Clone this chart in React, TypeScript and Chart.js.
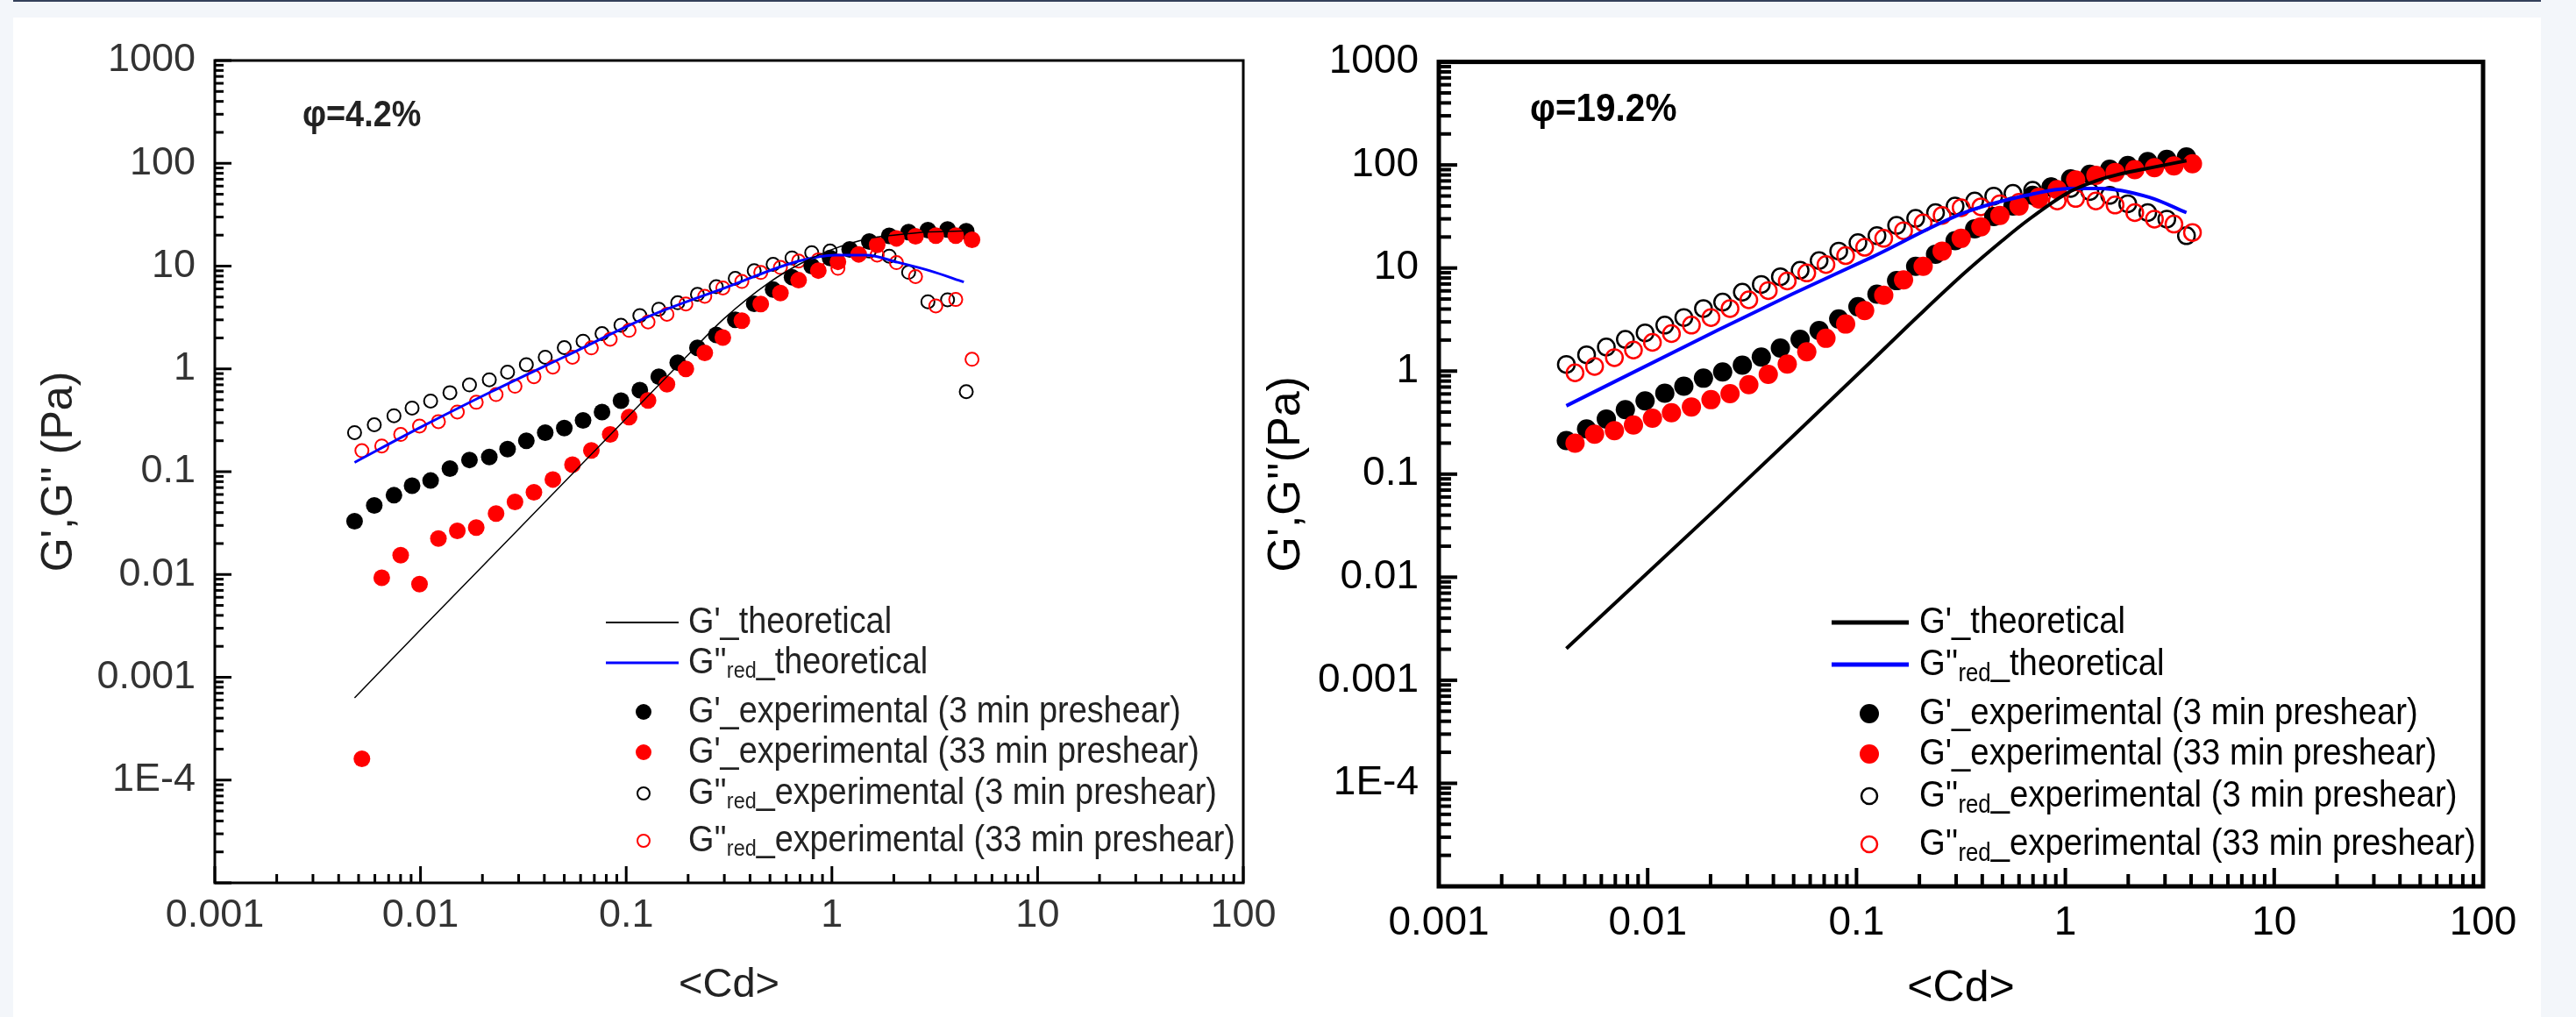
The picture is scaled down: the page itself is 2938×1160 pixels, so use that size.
import React, { useEffect, useRef } from 'react';
import { Chart, registerables } from 'chart.js';

Chart.register(...registerables);

// ---------------- shared tick labels ----------------
const xTickValues = [0.001, 0.01, 0.1, 1, 10, 100];
const xTickLabels = ['0.001', '0.01', '0.1', '1', '10', '100'];
const yTickValues = [1e-4, 0.001, 0.01, 0.1, 1, 10, 100, 1000];
const yTickLabels = ['1E-4', '0.001', '0.01', '0.1', '1', '10', '100', '1000'];

const legendLabels = [
  "G'_theoretical",
  "G''{red}_theoretical",
  "G'_experimental (3 min preshear)",
  "G'_experimental (33 min preshear)",
  "G''{red}_experimental (3 min preshear)",
  "G''{red}_experimental (33 min preshear)",
];
const legendKinds = ['line', 'line', 'filled', 'filled', 'open', 'open'];
const seriesColors = ['#000000', '#0000ff', '#000000', '#ff0000', '#000000', '#ff0000'];

// ---------------- left panel: phi = 4.2% ----------------
const leftTitle = 'φ=4.2%';
const leftExp3X = [0.00478, 0.00596, 0.00743, 0.0091, 0.0112, 0.0139, 0.0173, 0.0216, 0.0265, 0.0327, 0.0404, 0.05, 0.0617, 0.0763, 0.0943, 0.1165, 0.144, 0.178, 0.222, 0.274, 0.339, 0.419, 0.518, 0.64, 0.798, 0.98, 1.22, 1.52, 1.9, 2.36, 2.93, 3.65, 4.5];
const leftGp3Y = [0.033, 0.047, 0.059, 0.073, 0.082, 0.107, 0.13, 0.139, 0.166, 0.2, 0.24, 0.266, 0.316, 0.38, 0.49, 0.62, 0.84, 1.15, 1.6, 2.14, 3.0, 4.3, 5.9, 7.8, 10.0, 12.0, 14.5, 17.3, 19.7, 21.4, 22.4, 22.7, 21.8];
const leftGpp3Y = [0.24, 0.286, 0.35, 0.416, 0.487, 0.587, 0.698, 0.783, 0.93, 1.1, 1.3, 1.61, 1.86, 2.2, 2.66, 3.3, 3.81, 4.4, 5.3, 6.3, 7.6, 9.0, 10.4, 12.0, 13.5, 14.0, 14.5, 14.0, 12.5, 8.7, 4.5, 4.7, 0.6];
const leftExp33X = [0.00519, 0.00648, 0.00801, 0.00989, 0.01222, 0.0151, 0.01866, 0.0233, 0.0288, 0.0356, 0.044, 0.0548, 0.0677, 0.0836, 0.1033, 0.1277, 0.1578, 0.195, 0.241, 0.295, 0.365, 0.451, 0.562, 0.689, 0.859, 1.07, 1.35, 1.66, 2.06, 2.55, 3.2, 4.0, 4.8];
const leftGp33Y = [1.61e-4, 0.0093, 0.0154, 0.00806, 0.0224, 0.0266, 0.0286, 0.0392, 0.0508, 0.063, 0.084, 0.117, 0.161, 0.23, 0.34, 0.494, 0.708, 1.0, 1.43, 2.02, 2.94, 4.28, 5.47, 7.29, 9.04, 11.0, 13.0, 16.1, 18.6, 19.5, 19.8, 19.8, 18.0];
const leftGpp33Y = [0.16, 0.178, 0.23, 0.278, 0.307, 0.381, 0.473, 0.562, 0.678, 0.84, 1.04, 1.3, 1.6, 1.94, 2.37, 2.86, 3.4, 4.28, 5.08, 6.13, 7.08, 8.66, 9.7, 11.2, 11.5, 9.5, 13.0, 12.8, 10.8, 7.9, 4.1, 4.73, 1.24];
const leftTheoGpX = [0.00478, 0.01, 0.03, 0.1, 0.2, 0.3, 0.5, 0.7, 1, 1.5, 2, 3, 4.5];
const leftTheoGpY = [6.3e-4, 2.9e-3, 0.0276, 0.33, 1.37, 3.1, 7.0, 10.5, 14.5, 18.5, 20, 21.5, 22];
const leftTheoGppX = [0.00478, 0.01, 0.0221, 0.05, 0.132, 0.3, 0.69, 1.04, 1.47, 2.08, 3, 4.38];
const leftTheoGppY = [0.123, 0.27, 0.6, 1.31, 3.3, 6.1, 11.2, 12.8, 12.8, 10.9, 9.0, 7.0];

// ---------------- right panel: phi = 19.2% ----------------
const rightTitle = 'φ=19.2%';
const rightExp3X = [0.00408, 0.0051, 0.00634, 0.00782, 0.00972, 0.01208, 0.0149, 0.0185, 0.02286, 0.0284, 0.035, 0.0432, 0.0537, 0.0662, 0.0822, 0.1016, 0.1253, 0.1556, 0.192, 0.239, 0.2965, 0.368, 0.454, 0.561, 0.697, 0.855, 1.06, 1.31, 1.63, 1.99, 2.48, 3.06, 3.8];
const rightGp3Y = [0.212, 0.275, 0.343, 0.422, 0.514, 0.61, 0.713, 0.853, 0.98, 1.14, 1.37, 1.67, 2.03, 2.47, 3.2, 4.21, 5.58, 7.54, 10.4, 13.6, 18.4, 24, 31.6, 39.9, 50.7, 61.2, 73.4, 81.3, 90.8, 99, 108, 113.5, 119.6];
const rightGpp3Y = [1.16, 1.44, 1.71, 2.03, 2.35, 2.79, 3.31, 4.04, 4.67, 5.83, 6.93, 8.22, 9.51, 11.8, 14.6, 17.6, 20.6, 25.9, 30.3, 34.5, 39.9, 44.7, 49.9, 53, 56.8, 61.2, 59.2, 55.2, 50.7, 42, 34.5, 29.8, 20.6];
const rightExp33X = [0.00449, 0.00557, 0.00693, 0.00855, 0.01054, 0.013, 0.0162, 0.0201, 0.0248, 0.0305, 0.0378, 0.0466, 0.0578, 0.0714, 0.0887, 0.1094, 0.135, 0.168, 0.2085, 0.257, 0.317, 0.394, 0.486, 0.6, 0.746, 0.914, 1.12, 1.4, 1.73, 2.15, 2.67, 3.31, 4.06];
const rightGp33Y = [0.2, 0.244, 0.264, 0.3, 0.349, 0.394, 0.449, 0.528, 0.605, 0.738, 0.93, 1.17, 1.54, 2.08, 2.86, 3.86, 5.45, 7.67, 10.4, 14.6, 19.4, 25.1, 32.4, 39.9, 48.5, 57.7, 71.4, 79.3, 84.7, 90.2, 94, 98, 102.6];
const rightGpp33Y = [0.962, 1.11, 1.35, 1.6, 1.9, 2.31, 2.79, 3.31, 4.04, 4.91, 6.04, 7.48, 8.96, 10.8, 13.2, 15.9, 19.4, 23, 27.4, 32.4, 38.5, 39.2, 42, 43.4, 46.5, 44.7, 47.3, 44.7, 40.9, 34.5, 29.8, 26.7, 22.1];
const rightTheoGpX = [0.00408, 0.0219, 0.05, 0.119, 0.2, 0.33, 0.5, 0.652, 1.047, 1.4, 1.8, 2.5, 3.8];
const rightTheoGpY = [0.00203, 0.0486, 0.237, 1.27, 3.5, 9.0, 18.5, 28.5, 55, 70, 81, 93, 110];
const rightTheoGppX = [0.00408, 0.0219, 0.0494, 0.119, 0.33, 0.652, 1.047, 1.47, 2.53, 3.8];
const rightTheoGppY = [0.46, 2.52, 5.6, 12.8, 34.5, 50.7, 59.2, 59.2, 48.5, 34.5];

// ---------------- helpers ----------------
const FAMILY = "'Liberation Sans', Arial, Helvetica, sans-serif";
const pts = (xs: number[], ys: number[]) => xs.map((x, i) => ({ x, y: ys[i] }));
const isPow10 = (v: number) => Math.abs(Math.log10(v) - Math.round(Math.log10(v))) < 1e-6;
const logTicks = (minExp: number, maxExp: number) => {
  const out: number[] = [];
  for (let e = minExp; e < maxExp; e++) {
    for (let m = 1; m <= 9; m++) out.push(parseFloat((m * Math.pow(10, e)).toPrecision(8)));
  }
  out.push(Math.pow(10, maxExp));
  return out;
};
const labelFor = (values: number[], labels: string[]) => (value: any) => {
  const v = Number(value);
  const i = values.findIndex((t) => Math.abs(Math.log10(t) - Math.log10(v)) < 1e-6);
  return i >= 0 ? labels[i] : '';
};
const xTicksAll = logTicks(-3, 2);
const yTicksAll = logTicks(-5, 3);

function drawRich(ctx: CanvasRenderingContext2D, text: string, x: number, y: number, font: string, subFont: string, subDy: number, sx: number) {
  ctx.save();
  ctx.translate(x, y);
  ctx.scale(sx, 1);
  ctx.textBaseline = 'middle';
  ctx.textAlign = 'left';
  const parts = text.split(/[{}]/);
  let cx = 0;
  parts.forEach((p, idx) => {
    const sub = idx % 2 === 1;
    ctx.font = sub ? subFont : font;
    ctx.fillText(p, cx, sub ? subDy : 0);
    cx += ctx.measureText(p).width;
  });
  ctx.restore();
}

function buildConfig(p: any) {
  const datasets: any[] = [
    {
      label: legendLabels[0], data: pts(p.theoGpX, p.theoGpY), showLine: true, pointRadius: 0,
      borderColor: seriesColors[0], borderWidth: p.gpLineW, cubicInterpolationMode: 'monotone', fill: false, order: 0,
    },
    {
      label: legendLabels[1], data: pts(p.theoGppX, p.theoGppY), showLine: true, pointRadius: 0,
      borderColor: seriesColors[1], borderWidth: p.gppLineW, cubicInterpolationMode: 'monotone', fill: false, order: 0,
    },
    {
      label: legendLabels[2], data: pts(p.exp3X, p.gp3Y), showLine: false, pointRadius: p.filledR,
      pointBackgroundColor: seriesColors[2], pointBorderColor: seriesColors[2], pointBorderWidth: 0, order: 2,
    },
    {
      label: legendLabels[3], data: pts(p.exp33X, p.gp33Y), showLine: false, pointRadius: p.filledR,
      pointBackgroundColor: seriesColors[3], pointBorderColor: seriesColors[3], pointBorderWidth: 0, order: 1,
    },
    {
      label: legendLabels[4], data: pts(p.exp3X, p.gpp3Y), showLine: false, pointRadius: p.openR,
      pointBackgroundColor: 'rgba(0,0,0,0)', pointBorderColor: seriesColors[4], pointBorderWidth: p.openW, order: 4,
    },
    {
      label: legendLabels[5], data: pts(p.exp33X, p.gpp33Y), showLine: false, pointRadius: p.openR,
      pointBackgroundColor: 'rgba(0,0,0,0)', pointBorderColor: seriesColors[5], pointBorderWidth: p.openW, order: 3,
    },
  ];

  const decor = {
    id: 'decor' + p.key,
    afterDraw(chart: any) {
      const ctx: CanvasRenderingContext2D = chart.ctx;
      const a = chart.chartArea;
      const xs = chart.scales.x;
      const ys = chart.scales.y;
      ctx.save();
      ctx.setLineDash([]);
      ctx.globalAlpha = 1;
      ctx.fillStyle = '#000000';
      const hw = p.tickW / 2;
      // inward major/minor ticks on the bottom and left axes
      for (const v of xTicksAll) {
        const px = xs.getPixelForValue(v);
        const len = isPow10(v) ? p.majorLen : p.minorLen;
        ctx.fillRect(px - hw, a.bottom - len, p.tickW, len);
      }
      for (const v of yTicksAll) {
        const py = ys.getPixelForValue(v);
        const len = isPow10(v) ? p.majorLen : p.minorLen;
        ctx.fillRect(a.left, py - hw, len, p.tickW);
      }
      ctx.strokeStyle = '#000000';
      ctx.lineWidth = p.frameW;
      ctx.strokeRect(a.left, a.top, a.right - a.left, a.bottom - a.top);

      // panel annotation
      ctx.fillStyle = p.textColor;
      ctx.save();
      ctx.translate(p.titleX, p.titleY);
      ctx.scale(p.titleSx, 1);
      ctx.font = `bold ${p.titleSize}px ${FAMILY}`;
      ctx.textBaseline = 'middle';
      ctx.textAlign = 'left';
      ctx.fillText(p.title, 0, 0);
      ctx.restore();

      // legend
      const L = p.legend;
      legendLabels.forEach((label, i) => {
        const y = L.rows[i];
        const kind = legendKinds[i];
        const color = seriesColors[i];
        if (kind === 'line') {
          ctx.strokeStyle = color;
          ctx.lineWidth = i === 0 ? L.lineW0 : L.lineW1;
          ctx.beginPath();
          ctx.moveTo(L.lineX1, y);
          ctx.lineTo(L.lineX2, y);
          ctx.stroke();
        } else if (kind === 'filled') {
          ctx.fillStyle = color;
          ctx.beginPath();
          ctx.arc(L.markerX, y, L.filledR, 0, Math.PI * 2);
          ctx.fill();
        } else {
          ctx.strokeStyle = color;
          ctx.lineWidth = L.openW;
          ctx.beginPath();
          ctx.arc(L.markerX, y, L.openR, 0, Math.PI * 2);
          ctx.stroke();
        }
        ctx.fillStyle = p.textColor;
        drawRich(ctx, label, L.textX, y, `${L.fontSize}px ${FAMILY}`, `${L.subSize}px ${FAMILY}`, L.subDy, L.sx);
      });
      ctx.restore();
    },
  };

  return {
    type: 'scatter',
    data: { datasets },
    plugins: [decor],
    options: {
      animation: false,
      responsive: false,
      devicePixelRatio: 1,
      layout: { padding: { left: 0, top: p.padTop, right: p.padRight, bottom: 0 } },
      plugins: { legend: { display: false }, tooltip: { enabled: false }, title: { display: false } },
      scales: {
        x: {
          type: 'logarithmic',
          position: 'bottom',
          min: 0.001,
          max: 100,
          grid: { display: false, drawTicks: false },
          border: { display: false },
          afterFit: (s: any) => { s.height = p.xAxisH; },
          ticks: {
            autoSkip: false, maxRotation: 0, minRotation: 0, padding: p.xTickPad,
            color: p.tickColor, font: { size: p.tickSize, family: FAMILY },
            callback: labelFor(xTickValues, xTickLabels),
          },
          title: {
            display: true, text: '<Cd>', color: p.textColor,
            font: { size: p.xTitleSize, family: FAMILY }, padding: { top: 0, bottom: p.xTitlePad },
          },
        },
        y: {
          type: 'logarithmic',
          position: 'left',
          min: 1e-5,
          max: 1000,
          grid: { display: false, drawTicks: false },
          border: { display: false },
          afterFit: (s: any) => { s.width = p.yAxisW; },
          ticks: {
            autoSkip: false, padding: p.yTickPad,
            color: p.tickColor, font: { size: p.tickSize, family: FAMILY },
            callback: labelFor(yTickValues, yTickLabels),
          },
          title: {
            display: true, text: p.yTitle, color: p.textColor,
            font: { size: p.yTitleSize, family: FAMILY }, padding: { top: p.yTitlePad, bottom: 0 },
          },
        },
      },
    },
  };
}

const leftPanel = {
  key: 'L', left: 15, top: 20, w: 1454, h: 1140,
  padTop: 41, padRight: 51, yAxisW: 230, xAxisH: 153,
  exp3X: leftExp3X, gp3Y: leftGp3Y, gpp3Y: leftGpp3Y,
  exp33X: leftExp33X, gp33Y: leftGp33Y, gpp33Y: leftGpp33Y,
  theoGpX: leftTheoGpX, theoGpY: leftTheoGpY, theoGppX: leftTheoGppX, theoGppY: leftTheoGppY,
  gpLineW: 1.5, gppLineW: 3, filledR: 9.5, openR: 7.5, openW: 2,
  tickW: 3, frameW: 3, majorLen: 19, minorLen: 10,
  tickColor: '#333', textColor: '#222', tickSize: 45, xTickPad: 11, yTickPad: 22,
  xTitleSize: 47, xTitlePad: 8, yTitle: "G',G'' (Pa)", yTitleSize: 50, yTitlePad: 23,
  title: leftTitle, titleX: 330, titleY: 112, titleSize: 42, titleSx: 0.9,
  legend: {
    lineX1: 676, lineX2: 759, markerX: 719, textX: 770,
    rows: [690, 736, 792, 838, 885, 939],
    lineW0: 2, lineW1: 3, filledR: 9, openR: 7, openW: 2,
    fontSize: 42, subSize: 26, subDy: 10, sx: 0.9,
  },
};

const rightPanel = {
  key: 'R', left: 1420, top: 20, w: 1478, h: 1140,
  padTop: 32, padRight: 66, yAxisW: 221, xAxisH: 149,
  exp3X: rightExp3X, gp3Y: rightGp3Y, gpp3Y: rightGpp3Y,
  exp33X: rightExp33X, gp33Y: rightGp33Y, gpp33Y: rightGpp33Y,
  theoGpX: rightTheoGpX, theoGpY: rightTheoGpY, theoGppX: rightTheoGppX, theoGppY: rightTheoGppY,
  gpLineW: 4, gppLineW: 4, filledR: 11, openR: 9.5, openW: 2.5,
  tickW: 4, frameW: 5, majorLen: 21, minorLen: 14,
  tickColor: '#000', textColor: '#000', tickSize: 46, xTickPad: 15, yTickPad: 23,
  xTitleSize: 50, xTitlePad: 2, yTitle: "G',G''(Pa)", yTitleSize: 52, yTitlePad: 16,
  title: rightTitle, titleX: 325, titleY: 106, titleSize: 44, titleSx: 0.92,
  legend: {
    lineX1: 669, lineX2: 757, markerX: 712, textX: 769,
    rows: [690, 738, 794, 840, 888, 943],
    lineW0: 5, lineW1: 5, filledR: 11, openR: 9, openW: 2.5,
    fontSize: 43, subSize: 29, subDy: 11, sx: 0.89,
  },
};

function Panel({ cfg }: { cfg: any }) {
  const ref = useRef<HTMLCanvasElement | null>(null);
  useEffect(() => {
    if (!ref.current) return;
    const chart = new Chart(ref.current, buildConfig(cfg) as any);
    return () => chart.destroy();
  }, [cfg]);
  return (
    <canvas
      ref={ref}
      width={cfg.w}
      height={cfg.h}
      style={{ position: 'absolute', left: cfg.left, top: cfg.top, width: cfg.w, height: cfg.h }}
    />
  );
}

export default function App() {
  return (
    <div
      style={{
        position: 'absolute', left: 0, top: 0, width: 2938, height: 1160, overflow: 'hidden',
        background: '#f3f6fa', fontFamily: FAMILY,
      }}
    >
      <div style={{ position: 'absolute', left: 15, top: 0, width: 2883, height: 2, background: '#34405a' }} />
      <div style={{ position: 'absolute', left: 15, top: 20, width: 2883, height: 1140, background: '#ffffff' }} />
      <Panel cfg={leftPanel} />
      <Panel cfg={rightPanel} />
    </div>
  );
}
